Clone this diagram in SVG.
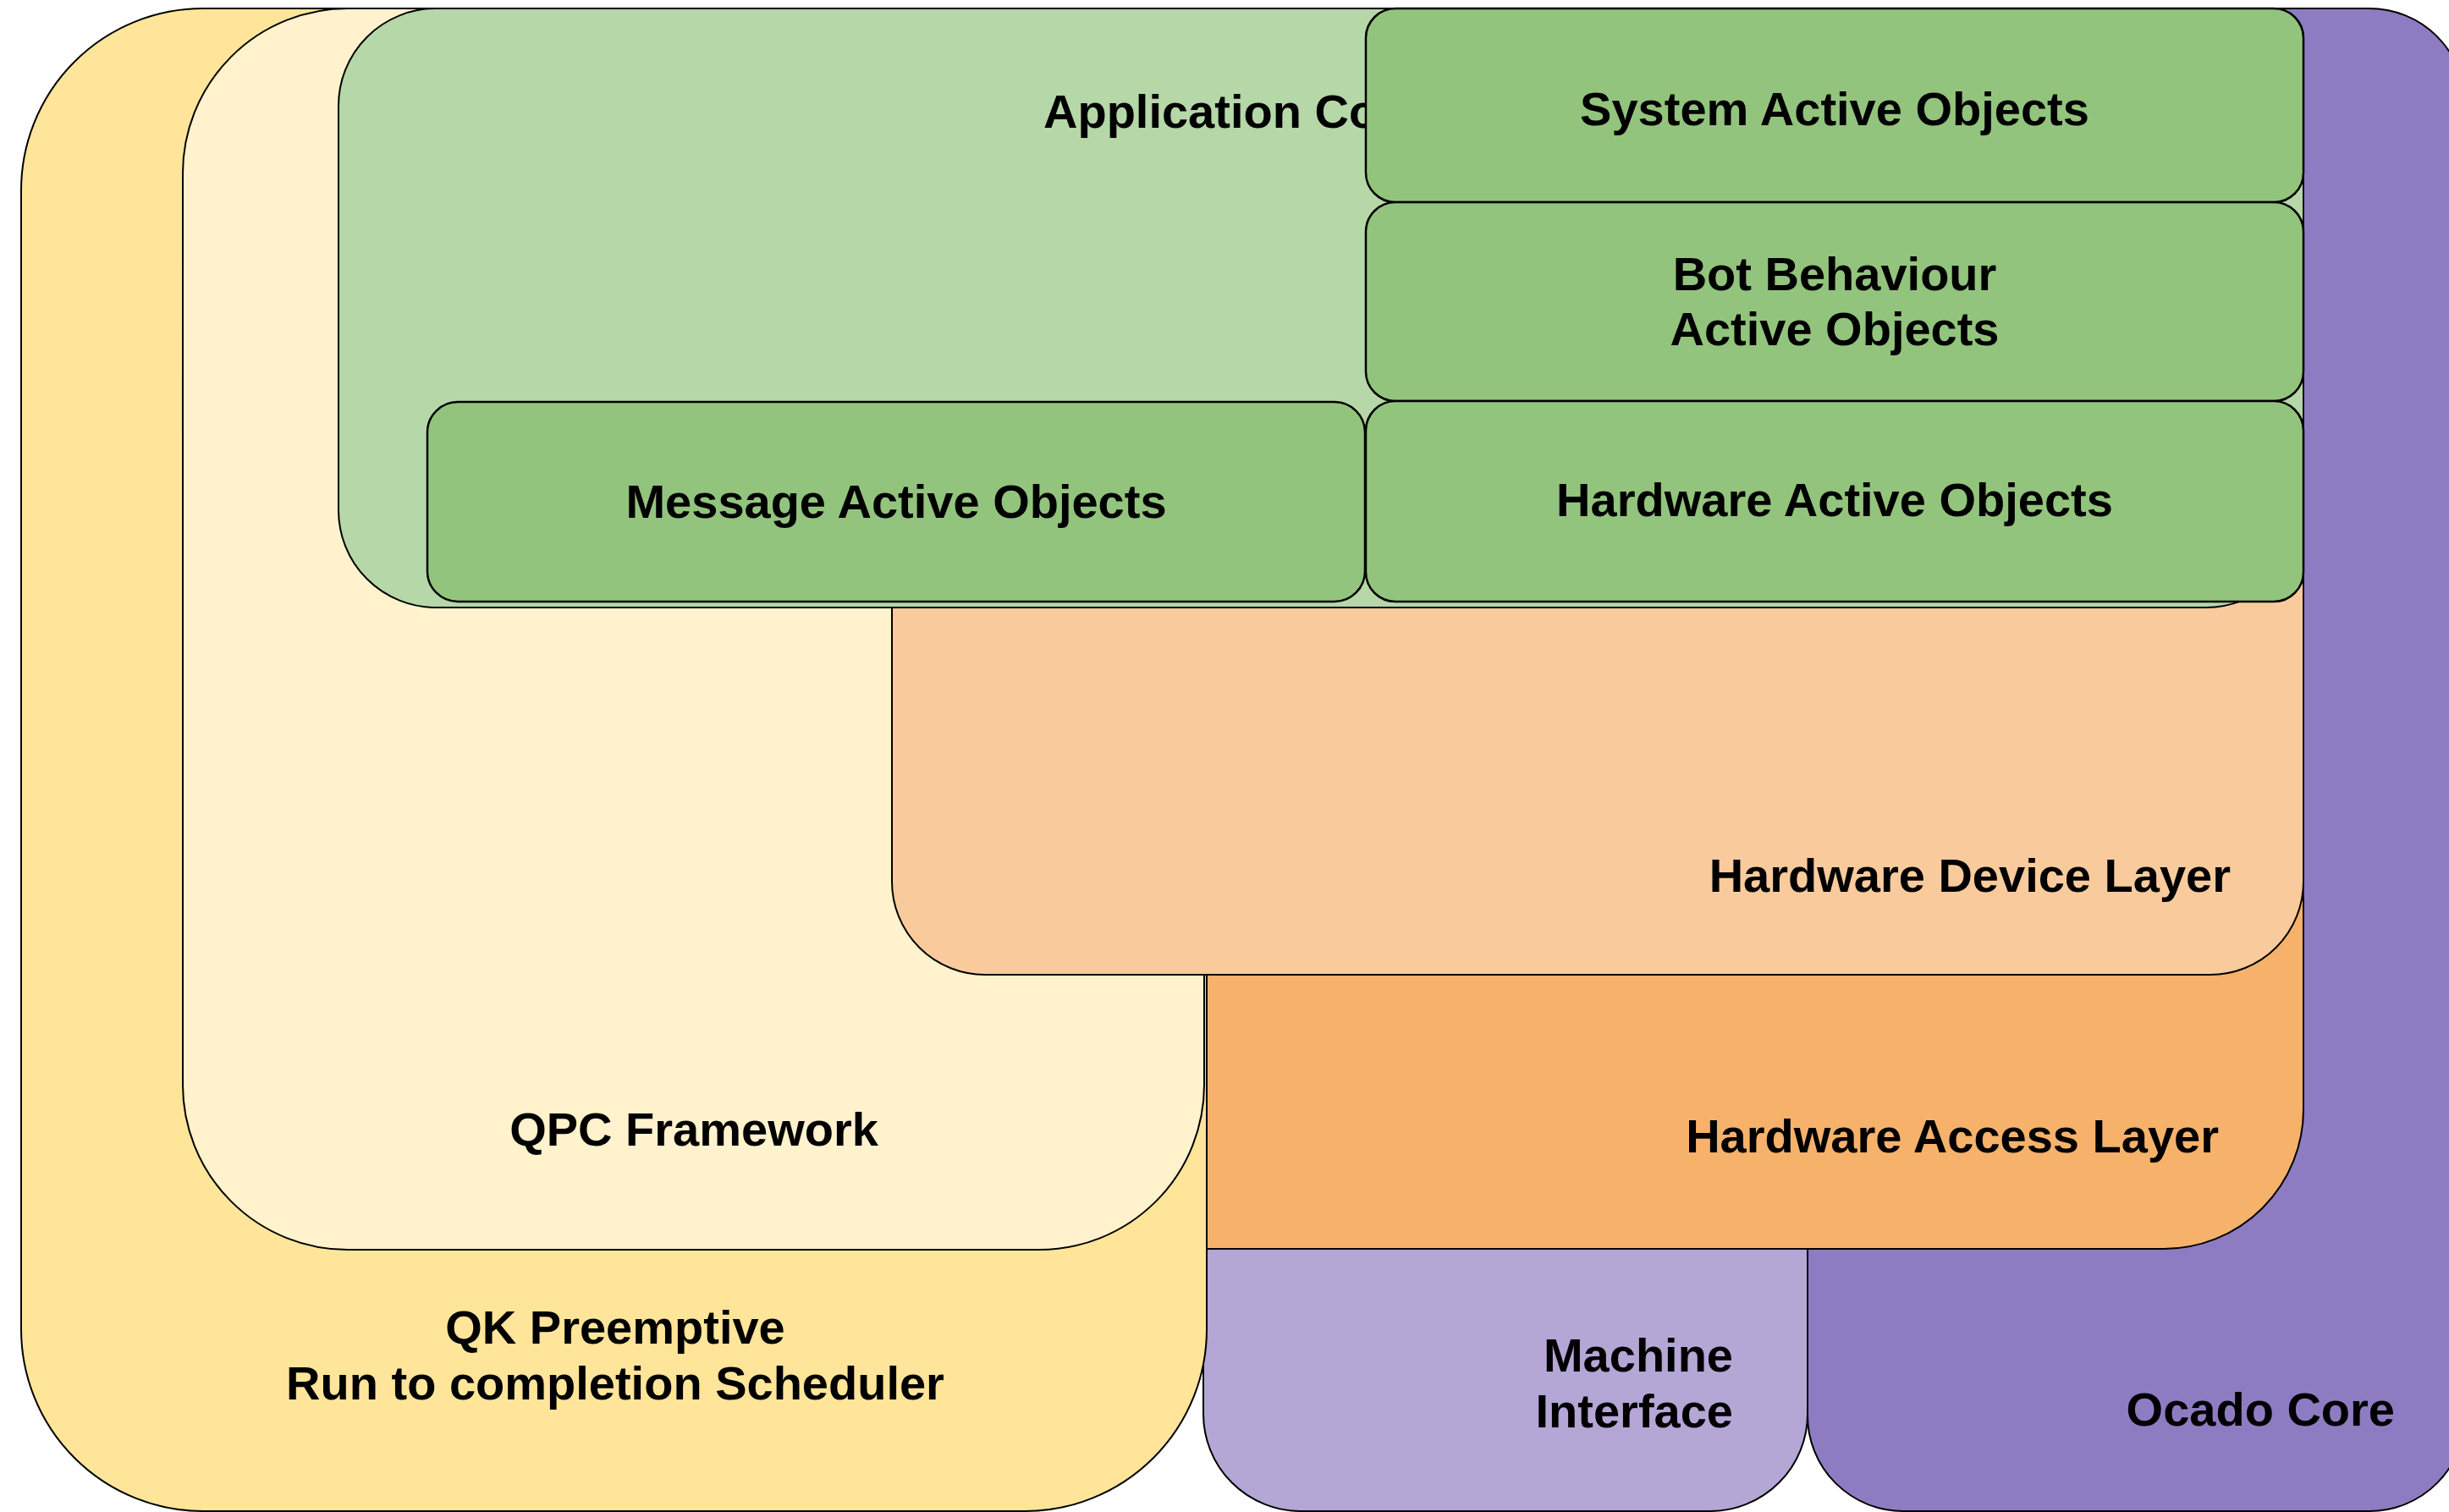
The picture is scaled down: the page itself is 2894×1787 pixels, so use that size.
<svg xmlns="http://www.w3.org/2000/svg" width="2894" height="1787" viewBox="0 0 2894 1787">
<style>
.box{stroke:#000;stroke-width:2}
.ao{fill:#93C47D;stroke:#000;stroke-width:2.5}
text{font-family:"Liberation Sans",Arial,Helvetica,sans-serif;font-weight:bold;font-size:56px;fill:#000}
.c{text-anchor:middle}
.e{text-anchor:end}
</style>
<rect width="2894" height="1787" fill="#fff"/>
<g id="ocado-core">
<rect class="box" x="2136" y="10" width="777" height="1776" rx="113" ry="113" fill="#8E7CC3"/>
<text class="e" x="2830" y="1685">Ocado Core</text>
</g>
<g id="machine-interface">
<rect class="box" x="1422" y="1300" width="714" height="486" rx="115" ry="115" fill="#B4A7D6"/>
<text class="e" x="2048" y="1621">Machine</text>
<text class="e" x="2048" y="1687">Interface</text>
</g>
<g id="hardware-access-layer">
<rect class="box" x="1100" y="900" width="1622" height="576" rx="165" ry="165" fill="#F6B26B"/>
<text class="e" x="2622" y="1362">Hardware Access Layer</text>
</g>
<g id="qk-scheduler">
<rect class="box" x="25" y="10" width="1401" height="1776" rx="215" ry="215" fill="#FFE599"/>
<text class="c" x="727" y="1588">QK Preemptive</text>
<text class="c" x="727" y="1654">Run to completion Scheduler</text>
</g>
<g id="qpc-framework">
<rect class="box" x="216" y="10" width="1207" height="1467" rx="195" ry="195" fill="#FFF2CC"/>
<text class="c" x="820" y="1354">QPC Framework</text>
</g>
<g id="hardware-device-layer">
<rect class="box" x="1054" y="300" width="1668" height="852" rx="110" ry="110" fill="#F9CB9C"/>
<text class="e" x="2636" y="1054">Hardware Device Layer</text>
</g>
<g id="application">
<rect class="box" x="400" y="10" width="2322" height="708" rx="115" ry="115" fill="#B6D7A8"/>
<text x="1233" y="151">Application Co</text>
</g>
<g id="message-active-objects">
<rect class="ao" x="505" y="475" width="1108" height="236" rx="36" ry="36"/>
<text class="c" x="1059" y="612">Message Active Objects</text>
</g>
<g id="system-active-objects">
<rect class="ao" x="1614" y="10" width="1108" height="229" rx="35" ry="35"/>
<text class="c" x="2168" y="148">System Active Objects</text>
</g>
<g id="bot-behaviour-active-objects">
<rect class="ao" x="1614" y="239" width="1108" height="235" rx="35" ry="35"/>
<text class="c" x="2168" y="343">Bot Behaviour</text>
<text class="c" x="2168" y="408">Active Objects</text>
</g>
<g id="hardware-active-objects">
<rect class="ao" x="1614" y="474" width="1108" height="237" rx="35" ry="35"/>
<text class="c" x="2168" y="610">Hardware Active Objects</text>
</g>
<g id="connectors"></g>
</svg>
